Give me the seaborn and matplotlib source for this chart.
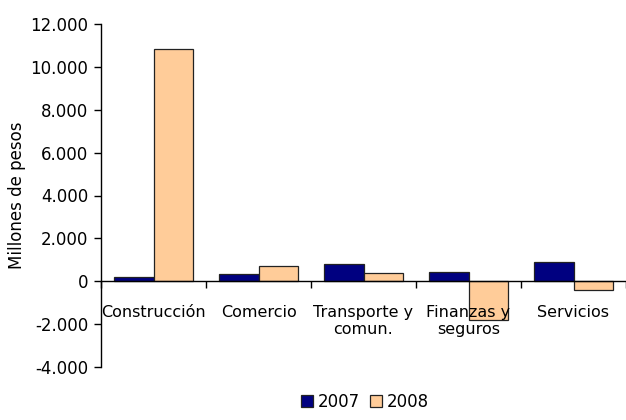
import seaborn as sns
import matplotlib.pyplot as plt
import matplotlib.ticker as mticker
from matplotlib.patches import Patch
import numpy as np
import pandas as pd

sectores = ["Construcción", "Comercio", "Transporte y\ncomun.", "Finanzas y\nseguros", "Servicios"]
anios = ["2007", "2008"]
v2007 = [200, 330, 800, 450, 920]
v2008 = [10850, 730, 400, -1820, -420]
colores = ["#000080", "#FFCC99"]

df = pd.DataFrame({
    "sector": sectores * 2,
    "anio": [anios[0]] * 5 + [anios[1]] * 5,
    "valor": v2007 + v2008,
})

sns.set_style("white")
plt.rcParams["font.family"] = ["DejaVu Sans"]
plt.rcParams["text.color"] = "black"
plt.rcParams["xtick.color"] = "black"
plt.rcParams["ytick.color"] = "black"
plt.rcParams["axes.labelcolor"] = "black"

fig = plt.figure(figsize=(6.26, 4.2), dpi=100)
ax = fig.add_axes([101 / 626, 1 - 367 / 420, 525 / 626, 343 / 420])

sns.barplot(data=df, x="sector", y="valor", hue="anio", palette=colores,
            width=0.75, edgecolor="#222222", linewidth=0.9, ax=ax,
            legend=False, saturation=1)
ax.set_axisbelow(False)

ax.set_ylim(-4000, 12000)
ax.set_yticks(np.arange(-4000, 12001, 2000))
ax.yaxis.set_major_formatter(mticker.FuncFormatter(lambda v, p: f"{v:,.0f}".replace(",", ".")))
ax.set_xlim(-0.5, 4.476)

# category separators as major ticks, labels on minor ticks
ax.set_xticks(np.arange(-0.5, 5, 1))
ax.set_xticklabels([])
ax.set_xticks(np.arange(5), minor=True)
ax.tick_params(axis="x", which="major", direction="out", length=5, width=1, bottom=True)
ax.tick_params(axis="x", which="minor", length=0, pad=17, labelsize=11.5)
ax.set_xticklabels(sectores, minor=True, fontsize=11.5, linespacing=1.25)
ax.tick_params(axis="y", direction="out", length=5, width=1, labelsize=12, pad=4, left=True)

for s in ["top", "right"]:
    ax.spines[s].set_visible(False)
ax.spines["bottom"].set_position(("data", 0))
ax.spines["bottom"].set_color("black")
ax.spines["left"].set_color("black")
ax.spines["bottom"].set_linewidth(1)
ax.spines["left"].set_linewidth(1)

ax.set_xlabel("")
ax.set_ylabel("Millones de pesos", fontsize=12, labelpad=3)

handles = [Patch(facecolor=c, edgecolor="#222222", linewidth=0.9) for c in colores]
ax.legend(handles, anios, loc="center", bbox_to_anchor=(0.503, -0.102), ncol=2,
          frameon=False, fontsize=12, handlelength=0.7, handleheight=0.7,
          handletextpad=0.3, columnspacing=0.6)

fig.savefig("out.png", dpi=100)
